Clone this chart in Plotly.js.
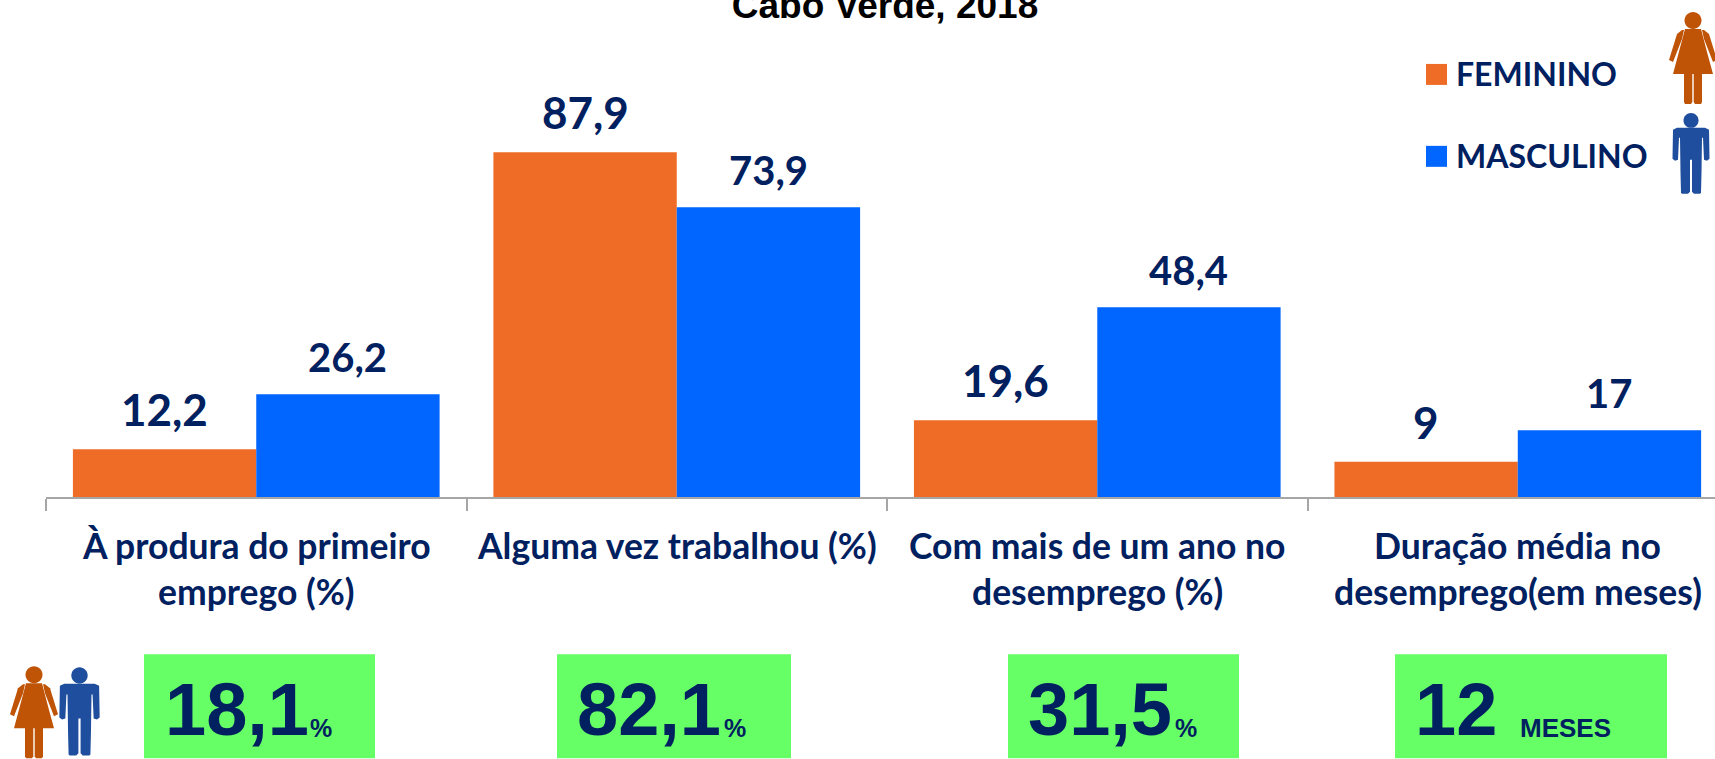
<!DOCTYPE html>
<html>
<head>
<meta charset="utf-8">
<script src="https://cdn.plot.ly/plotly-3.0.1.min.js"></script>
<style>html,body{margin:0;padding:0;background:#fff;overflow:hidden}</style>
</head>
<body>
<div id="chart" style="width:1715px;height:759px"></div>
<script>
const categories = ["À produra do primeiro emprego (%)", "Alguma vez trabalhou (%)", "Com mais de um ano no desemprego (%)", "Duração média no desemprego(em meses)"];
const labelLines = [["À produra do primeiro", "emprego (%)"], ["Alguma vez trabalhou (%)"], ["Com mais de um ano no", "desemprego (%)"], ["Duração média no", "desemprego(em meses)"]];
const feminino = [12.2, 87.9, 19.6, 9];
const masculino = [26.2, 73.9, 48.4, 17];
const femininoLabels = ["12,2", "87,9", "19,6", "9"];
const masculinoLabels = ["26,2", "73,9", "48,4", "17"];
const totals = ["18,1", "82,1", "31,5", "12"];
const totalUnits = ["%", "%", "%", "MESES"];

const W = 1715, H = 759, AXIS_Y = 497.5, LEFT = 46;
const NAVY = "#002060", ORANGE = "#EE6C26", BLUE = "#0066FF", GREEN = "#66FF66";
const CAL = "Lato, 'Open Sans', sans-serif", ARIAL = "'Liberation Sans', Arial, sans-serif";
const px = x => (x - LEFT) / (W - LEFT), py = y => (AXIS_Y - y) / AXIS_Y;

function ann(text, x, y, size, family, anchor, color) {
  return {text: text, x: px(x), y: py(y), xref: "paper", yref: "paper", showarrow: false,
    xanchor: anchor || "center", yanchor: "middle",
    font: {size: size, family: family, color: color || NAVY, weight: 700}};
}
function poly(points, ox, oy, s) {
  return points.map((p, i) => (i ? "L" : "M") + px(ox + p[0] * s) + "," + py(oy + p[1] * s)).join(" ") + " Z";
}
function head(cx, cy, r) {
  const k = 0.5523 * r;
  const P = (x, y) => px(x) + "," + py(y);
  return "M" + P(cx - r, cy) +
    " C" + P(cx - r, cy - k) + " " + P(cx - k, cy - r) + " " + P(cx, cy - r) +
    " C" + P(cx + k, cy - r) + " " + P(cx + r, cy - k) + " " + P(cx + r, cy) +
    " C" + P(cx + r, cy + k) + " " + P(cx + k, cy + r) + " " + P(cx, cy + r) +
    " C" + P(cx - k, cy + r) + " " + P(cx - r, cy + k) + " " + P(cx - r, cy) + " Z";
}
function pathShape(d, color) {
  return {type: "path", xref: "paper", yref: "paper", path: d, fillcolor: color, line: {width: 0}, layer: "above"};
}
/* silhouettes: origin = centre of the top of the head */
function woman(ox, oy, s) {
  const c = "#BF5306";
  return [
    head(ox, oy + 8.5 * s, 8.5 * s),
    poly([[-8,17],[8,17],[14,40],[20,62],[-20,62]], ox, oy, s),
    poly([[-9,18],[-11,18],[-16,22],[-24,48],[-20,50],[-11,27]], ox, oy, s),
    poly([[9,18],[11,18],[16,22],[24,48],[20,50],[11,27]], ox, oy, s),
    poly([[-9,60],[-0.7,60],[-0.7,90],[-2,92],[-8,92],[-9,90]], ox, oy, s),
    poly([[0.7,60],[9,60],[9,90],[8,92],[2,92],[0.7,90]], ox, oy, s)
  ].map(d => pathShape(d, c));
}
function man(ox, oy, s) {
  const c = "#1F4E9E";
  return [
    head(ox, oy + 7.5 * s, 7.5 * s),
    poly([[-14,15],[14,15],[18,17],[18.5,46],[16,48],[13,47],[12,25],[11,25],[10.5,60],[10,80],[9,81],[3,81],[1,79],[1,47],[-1,47],[-1,79],[-3,81],[-9,81],[-10,80],[-10.5,60],[-11,25],[-12,25],[-13,47],[-16,48],[-18.5,46],[-18,17]], ox, oy, s)
  ].map(d => pathShape(d, c));
}

const boxes = [[144, 375], [557, 791], [1008, 1239], [1395, 1667]];
const shapes = [];
boxes.forEach(b => shapes.push({type: "rect", xref: "paper", yref: "paper", x0: px(b[0]), x1: px(b[1]), y0: py(655), y1: py(759), fillcolor: GREEN, line: {width: 0}, layer: "below"}));
[[1426, 64, ORANGE], [1426, 146, BLUE]].forEach(l => shapes.push({type: "rect", xref: "paper", yref: "paper", x0: px(l[0]), x1: px(l[0] + 21), y0: py(l[1]), y1: py(l[1] + 21), fillcolor: l[2], line: {width: 0}}));
shapes.push(...woman(1693, 12, 1), ...man(1691, 113, 1), ...woman(34, 667, 1), ...man(79.5, 668, 1.09));

const annotations = [];
const OFFSET = 0.2178;
categories.forEach((c, i) => {
  annotations.push({x: i - OFFSET, y: feminino[i], xref: "x", yref: "y", text: femininoLabels[i], showarrow: false, yanchor: "bottom", yshift: 12, font: {size: 44, family: CAL, color: NAVY, weight: 700}});
  annotations.push({x: i + OFFSET, y: masculino[i], xref: "x", yref: "y", text: masculinoLabels[i], showarrow: false, yanchor: "bottom", yshift: 11, font: {size: 40, family: CAL, color: NAVY, weight: 700}});
  labelLines[i].forEach((t, j) => annotations.push({x: i, xref: "x", y: py(546 + j * 46), yref: "paper", text: t, showarrow: false, yanchor: "middle", font: {size: 35.5, family: CAL, color: NAVY, weight: 700}}));
});
const totalX = [163, 575, 1026, 1413], unitX = [321, 735, 1186, 1565];
totals.forEach((t, i) => {
  annotations.push(ann(t, totalX[i], 710, 74, ARIAL, "left"));
  annotations.push(ann(totalUnits[i], unitX[i], 729, i === 3 ? 26 : 25, ARIAL, "center"));
});
annotations.push(ann("FEMININO", 1454, 74, 32, CAL, "left"), ann("MASCULINO", 1454, 156, 32, CAL, "left"));

const data = [
  {type: "bar", name: "FEMININO", x: categories, y: feminino, marker: {color: ORANGE}, cliponaxis: false},
  {type: "bar", name: "MASCULINO", x: categories, y: masculino, marker: {color: BLUE}, cliponaxis: false}
];
const layout = {
  width: W, height: H, paper_bgcolor: "#fff", plot_bgcolor: "#fff", showlegend: false,
  margin: {l: LEFT, r: 0, t: 0, b: H - AXIS_Y, pad: 0},
  barmode: "group", bargap: 0.128, bargroupgap: 0,
  title: {text: "Cabo Verde, 2018", x: 885 / W, xanchor: "center", y: 1 - 18 / H, yanchor: "bottom", font: {size: 37, family: ARIAL, color: "#000", weight: 700}},
  xaxis: {type: "category", categoryorder: "array", categoryarray: categories, range: [-0.5, 3.469], showline: true, linecolor: "#A6A6A6", linewidth: 1.5, ticks: "outside", tickson: "boundaries", ticklen: 12, tickcolor: "#A6A6A6", tickwidth: 1.5, showticklabels: false, showgrid: false, zeroline: false},
  yaxis: {range: [0, 126.75], visible: false, showgrid: false, zeroline: false},
  shapes: shapes, annotations: annotations
};
Plotly.newPlot("chart", data, layout, {displayModeBar: false, responsive: false});
</script>
</body>
</html>
